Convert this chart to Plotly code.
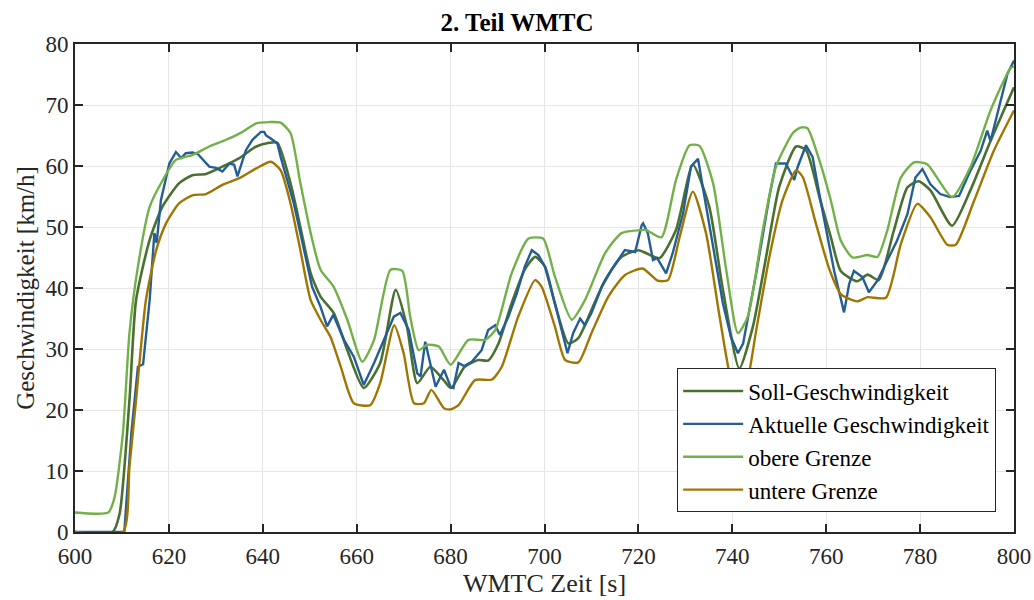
import plotly.graph_objects as go

# ---- data ----
soll_t = [600, 608, 609.5, 611.6, 613, 615.9, 618.6, 622.2, 625, 627.9, 631.4, 635, 638.6, 641.4, 643.1,
          645.9, 648, 650.2, 652.3, 655.1, 658, 661.5, 665, 668.3, 670.7, 672.9, 675.7, 678.5, 680.1,
          683, 685.9, 688, 690.2, 693, 695.8, 698, 700.1, 702.2, 705.1, 707.2, 710, 712.9, 716.4, 720,
          721.7, 724.5, 728, 731.6, 735.1, 738, 741.5, 744.4, 747.2, 750, 753.6, 755.7, 758.7, 761, 763.1,
          766.6, 768.8, 771.2, 774.4, 777.3, 779.7, 782.2, 786.8, 790.7, 795, 800]
soll_v = [0, 0, 3, 21.6, 38, 47.9, 53.3, 57.2, 58.5, 58.7, 59.9, 61.3, 63.2, 63.8, 63.8,
          57.2, 50, 42.4, 38.6, 35.9, 29.8, 23.6, 27.7, 39.7, 33.7, 24.4, 27.1, 24.9, 23.6,
          27.1, 28.2, 28.1, 30.9, 37.5, 43, 45.1, 43.5, 37.5, 30.9, 31.8, 36.4, 41.3, 45.1, 46.2,
          45.7, 44.9, 49.5, 60.2, 53.3, 39.7, 26.8, 33.7, 45.1, 56.6, 63.2, 62.6, 54.5, 48.3, 42.8,
          41.1, 42.2, 41.3, 49.4, 56.5, 57.5, 56, 50.2, 56, 64.1, 72.9]

ist_t = [600, 610.5, 612, 613.4, 614.5, 615.9, 616.9, 617.4, 618.3, 620.1, 621.5, 622.6, 623.6, 625,
         626.1, 627.2, 628.6, 630, 631.4, 632.9, 633.9, 634.6, 636.4, 637.8, 639.6, 640.3, 640.7, 641.7,
         643.1, 643.8, 645.2, 646.6, 648.8, 650.5, 652.3, 653.7, 655, 657.3, 659.4, 661.5, 663.7, 665.8,
         667.9, 669.3, 671.1, 672.9, 673.6, 674.6, 675.7, 676.8, 678.6, 680, 680.6, 681.7, 682.9, 684.5,
         686.6, 688, 689.5, 690.5, 692.3, 694.1, 695.8, 697.3, 698.7, 700.1, 702.2, 704, 704.9, 706.1,
         707.6, 708.6, 710, 712.2, 714.3, 717.1, 719.3, 720.7, 721, 722, 723.1, 724, 725.9, 727.3, 729.5,
         731.2, 732.7, 733.7, 735.9, 738, 739.7, 741.2, 742.3, 743.3, 745.1, 747.9, 749.3, 751.4, 753.2,
         753.9, 755.7, 757.1, 758.8, 761.7, 762.8, 763.8, 764.9, 765.9, 767.7, 769.1, 770.9, 773, 775.1,
         777.3, 779, 780.5, 782.2, 784.3, 786.4, 788.3, 790.7, 792.9, 794.3, 795, 797.1, 798.6, 800]
ist_v = [0, 0, 16.2, 27.1, 27.5, 38, 49, 47.4, 54.4, 60.4, 62.3, 61.3, 62.1, 62.2,
         62, 61, 59.9, 59.7, 59.1, 60.4, 60.2, 58.3, 62.6, 64.3, 65.6, 65.6, 65, 64.5,
         63.7, 61.5, 57.7, 53.9, 46.2, 40.2, 36.9, 33.7, 35.6, 31.5, 28.7, 24.1, 27.7, 31.5,
         35.3, 35.9, 33.1, 26, 25.5, 31.2, 27.7, 23.8, 26.6, 23.8, 23.6, 27.7, 27.2, 27.9,
         29.8, 33.1, 33.9, 32.3, 35.3, 39.1, 43.5, 46.2, 45.4, 43.5, 37.5, 32, 29.3, 32.6,
         35, 33.9, 35.9, 40.2, 43, 46.2, 45.9, 50.3, 50.6, 49, 44.6, 44.9, 42.4, 45.7, 52.2,
         59.9, 61.2, 56.6, 46.8, 37.5, 32, 29.3, 30.9, 34.8, 42.4, 55, 60.4, 60.4, 57.7,
         59.8, 63.4, 61.5, 54.3, 42.8, 39, 36, 40.7, 42.8, 41.8, 39.3, 41.2, 44.5, 47.8,
         52.1, 58.1, 59.5, 57, 55.4, 54.9, 55.1, 59.2, 62.5, 65.8, 64.1, 70.7, 75.1, 77.3]

ober_t = [600, 607.1, 608.4, 610.2, 611.6, 613.4, 615.9, 618.7, 621.5, 625, 628.6, 632.2, 635.7, 638.6,
          641.4, 643.8, 645.9, 648, 650.2, 652.3, 655.1, 658, 661.2, 663.7, 667.2, 669.7, 671.4, 673.2,
          675, 677.5, 680, 683.8, 687.3, 689.5, 693, 696.6, 699.7, 702.2, 705.8, 708.6, 712.9, 716.4,
          720.7, 721.7, 724.9, 728, 730.9, 733, 735.9, 738.7, 741.2, 743.3, 746.5, 749.3, 752.9, 754.5,
          756, 758.8, 761, 763.1, 765.6, 768.8, 770.9, 773, 775.9, 778.7, 781.5, 786.8, 790.7, 795, 799.3, 800]
ober_v = [3.2, 3.2, 5.6, 16.2, 32.6, 43.5, 53.3, 57.7, 61, 61.8, 63.2, 64.3, 65.6, 67,
          67.2, 67.1, 65.4, 57.2, 49, 43, 40.2, 34.8, 27.9, 31.5, 43, 42.8, 35.3, 29.8,
          30.7, 30.4, 27.4, 31.5, 31.5, 33.1, 42.4, 48.1, 48.1, 41.9, 34.8, 38, 45.7, 49,
          49.5, 49.5, 48.3, 57.7, 63.4, 63.3, 57.2, 43, 32.6, 35.3, 49.5, 59.9, 65.4, 66.3,
          66.2, 60.3, 54.3, 47.8, 45, 45.4, 45.1, 49.4, 58.1, 60.6, 60.3, 54.9, 59.8, 69.1, 76.1, 76.3]

unter_t = [600, 610.2, 611.6, 613, 615.1, 617.3, 619.4, 622.2, 625, 627.9, 631.4, 635, 638.6, 641.7,
           643.8, 645.9, 648, 650.2, 652.3, 654.4, 656.6, 659.4, 662.9, 665, 668, 670, 672.2, 674.3,
           675.9, 678.6, 680, 681.7, 685.2, 688.8, 690.9, 694.4, 698, 699.4, 702.2, 704.4, 707.2, 710,
           713.6, 717.1, 720.9, 724.1, 726.3, 728.8, 731.6, 734.4, 737.3, 740.1, 741.5, 742.9, 745.1,
           747.9, 750.7, 753.6, 755, 757.8, 760.7, 763.1, 766.6, 768.8, 772.7, 775.9, 779.4, 782.2,
           785.8, 787.6, 791.5, 795.7, 800]
unter_v = [0, 0, 10.7, 21.6, 38, 46.2, 50.6, 53.9, 55.2, 55.4, 56.9, 58, 59.6, 60.7,
           59.3, 53.9, 46.2, 38, 34.8, 32, 27.1, 21.1, 20.8, 24.4, 33.9, 29.3, 21.1, 21.1,
           23.3, 20.3, 20.1, 20.8, 24.9, 25, 27.1, 35.3, 41.3, 40.2, 33.7, 28.2, 27.8, 32.6,
           38.6, 42.1, 43.2, 41.2, 41.3, 48.4, 55.8, 49, 35.3, 23.8, 22.6, 23.8, 33.1,
           45.1, 54.4, 59.3, 58.2, 50.6, 43, 39, 37.8, 38.5, 38.4, 47.2, 53.8, 51.6,
           47.1, 47.1, 54.3, 62.5, 69.1]

x_ticks = [600, 620, 640, 660, 680, 700, 720, 740, 760, 780, 800]
y_ticks = [0, 10, 20, 30, 40, 50, 60, 70, 80]

FONT = "Liberation Serif, Times New Roman, serif"
AX = "#262626"

fig = go.Figure()
fig.add_trace(go.Scatter(x=soll_t, y=soll_v, mode="lines", name="Soll-Geschwindigkeit",
                         line=dict(color="rgb(74,112,48)", width=2.6, shape="spline", smoothing=0.6)))
fig.add_trace(go.Scatter(x=ist_t, y=ist_v, mode="lines", name="Aktuelle Geschwindigkeit",
                         line=dict(color="rgb(37,94,148)", width=2.4)))
fig.add_trace(go.Scatter(x=ober_t, y=ober_v, mode="lines", name="obere Grenze",
                         line=dict(color="rgb(114,176,72)", width=2.4, shape="spline", smoothing=0.6)))
fig.add_trace(go.Scatter(x=unter_t, y=unter_v, mode="lines", name="untere Grenze",
                         line=dict(color="rgb(160,118,0)", width=2.4, shape="spline", smoothing=0.6)))

axis_common = dict(showline=True, linecolor=AX, linewidth=2, mirror="allticks",
                   ticks="inside", ticklen=8, tickwidth=2, tickcolor=AX,
                   showgrid=True, gridcolor="#e6e6e6", gridwidth=1, zeroline=False,
                   automargin=False)

fig.update_xaxes(range=[600, 800], tickvals=x_ticks, ticktext=[str(v) for v in x_ticks],
                 tickfont=dict(family=FONT, size=23, color=AX), ticklabelstandoff=2,
                 title=dict(text="WMTC Zeit [s]", font=dict(family=FONT, size=26, color=AX), standoff=4),
                 **axis_common)
fig.update_yaxes(range=[0, 80], tickvals=y_ticks, ticktext=[str(v) for v in y_ticks],
                 tickfont=dict(family=FONT, size=23, color=AX),
                 title=dict(text="Geschwindigkeit [km/h]", font=dict(family=FONT, size=25, color=AX), standoff=4),
                 **axis_common)

fig.update_layout(
    width=1034, height=600,
    margin=dict(l=75, r=20, t=44, b=68),
    paper_bgcolor="white", plot_bgcolor="white",
    title=dict(text="<b>2. Teil WMTC</b>", x=0.5, xanchor="center", y=0.963, yanchor="middle",
               font=dict(family=FONT, size=25, color="black")),
    legend=dict(x=0.981, y=0.04, xanchor="right", yanchor="bottom",
                bgcolor="white", bordercolor=AX, borderwidth=1, itemwidth=60,
                font=dict(family=FONT, size=23, color="black"), tracegroupgap=0),
    showlegend=True,
)

fig.write_html("out.html", config={"displayModeBar": False},
               post_script="document.body.style.margin='0';document.body.style.overflow='hidden';")
